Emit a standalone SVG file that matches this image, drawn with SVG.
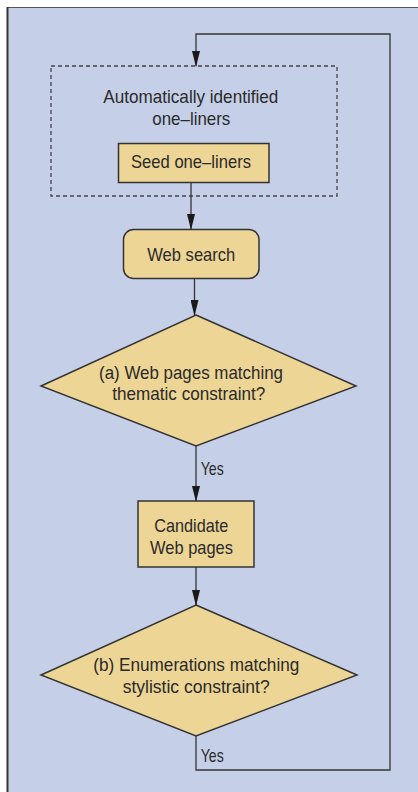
<svg xmlns="http://www.w3.org/2000/svg" width="418" height="792" viewBox="0 0 418 792">
<style>
.txt{font-family:"Liberation Sans",Arial,sans-serif;font-size:19px;fill:#2a2a2a}
.node{fill:#edd595;stroke:#333;stroke-width:1.5}
.conn{fill:none;stroke:#333;stroke-width:1.3}
</style>
<defs>
<marker id="arr" markerUnits="userSpaceOnUse" markerWidth="16" markerHeight="8" refX="15" refY="4" orient="auto" viewBox="0 0 16 8">
<path d="M0,0 L16,4 L0,8 Z" fill="#1a1a1a"/>
</marker>
</defs>
<rect x="0" y="0" width="418" height="792" fill="#ffffff"/>
<rect x="7" y="7.5" width="420" height="800" fill="#c5d0e8"/>
<line x1="7" y1="7.5" x2="418" y2="7.5" stroke="#555" stroke-width="1"/>
<line x1="7.5" y1="7" x2="7.5" y2="792" stroke="#333" stroke-width="2"/>

<g id="group-auto">
<rect x="51" y="66" width="286" height="130" fill="none" stroke="#444" stroke-width="1.3" stroke-dasharray="4,3"/>
<text class="txt" x="103.3" y="103.3" textLength="175" lengthAdjust="spacingAndGlyphs">Automatically identified</text>
<text class="txt" x="152.3" y="125" textLength="78" lengthAdjust="spacingAndGlyphs">one–liners</text>
</g>
<g id="seed">
<rect class="node" x="118.5" y="143.5" width="150.5" height="39"/>
<text class="txt" x="131" y="168.3" textLength="120" lengthAdjust="spacingAndGlyphs">Seed one–liners</text>
</g>
<g id="websearch">
<rect class="node" x="123.5" y="229.5" width="135.5" height="49" rx="10"/>
<text class="txt" x="147.3" y="260.7" textLength="88" lengthAdjust="spacingAndGlyphs">Web search</text>
</g>
<g id="decision-a">
<polygon class="node" points="196,315 356,386 196,446 41,386"/>
<text class="txt" x="99" y="379" textLength="184" lengthAdjust="spacingAndGlyphs">(a) Web pages matching</text>
<text class="txt" x="112.3" y="400" textLength="153" lengthAdjust="spacingAndGlyphs">thematic constraint?</text>
</g>
<g id="candidate">
<rect class="node" x="138" y="501" width="116" height="66"/>
<text class="txt" x="154.3" y="532.3" textLength="74" lengthAdjust="spacingAndGlyphs">Candidate</text>
<text class="txt" x="150" y="554" textLength="83" lengthAdjust="spacingAndGlyphs">Web pages</text>
</g>
<g id="decision-b">
<polygon class="node" points="196,605 357,675 196,736 41,675"/>
<text class="txt" x="93.3" y="671" textLength="206" lengthAdjust="spacingAndGlyphs">(b) Enumerations matching</text>
<text class="txt" x="122.7" y="692.7" textLength="147" lengthAdjust="spacingAndGlyphs">stylistic constraint?</text>
</g>

<g id="connectors">
<line class="conn" x1="191" y1="182.5" x2="191" y2="229" marker-end="url(#arr)"/>
<line class="conn" x1="194.5" y1="279" x2="194.5" y2="315" marker-end="url(#arr)"/>
<line class="conn" x1="196" y1="446" x2="196" y2="501" marker-end="url(#arr)"/>
<line class="conn" x1="196" y1="567" x2="196" y2="605" marker-end="url(#arr)"/>
<polyline class="conn" points="196,736 196,770 390,770 390,34 196,34 196,66" marker-end="url(#arr)"/>
<text class="txt" x="200.7" y="475" textLength="23" lengthAdjust="spacingAndGlyphs">Yes</text>
<text class="txt" x="200.7" y="761.7" textLength="23" lengthAdjust="spacingAndGlyphs">Yes</text>
</g>
</svg>
